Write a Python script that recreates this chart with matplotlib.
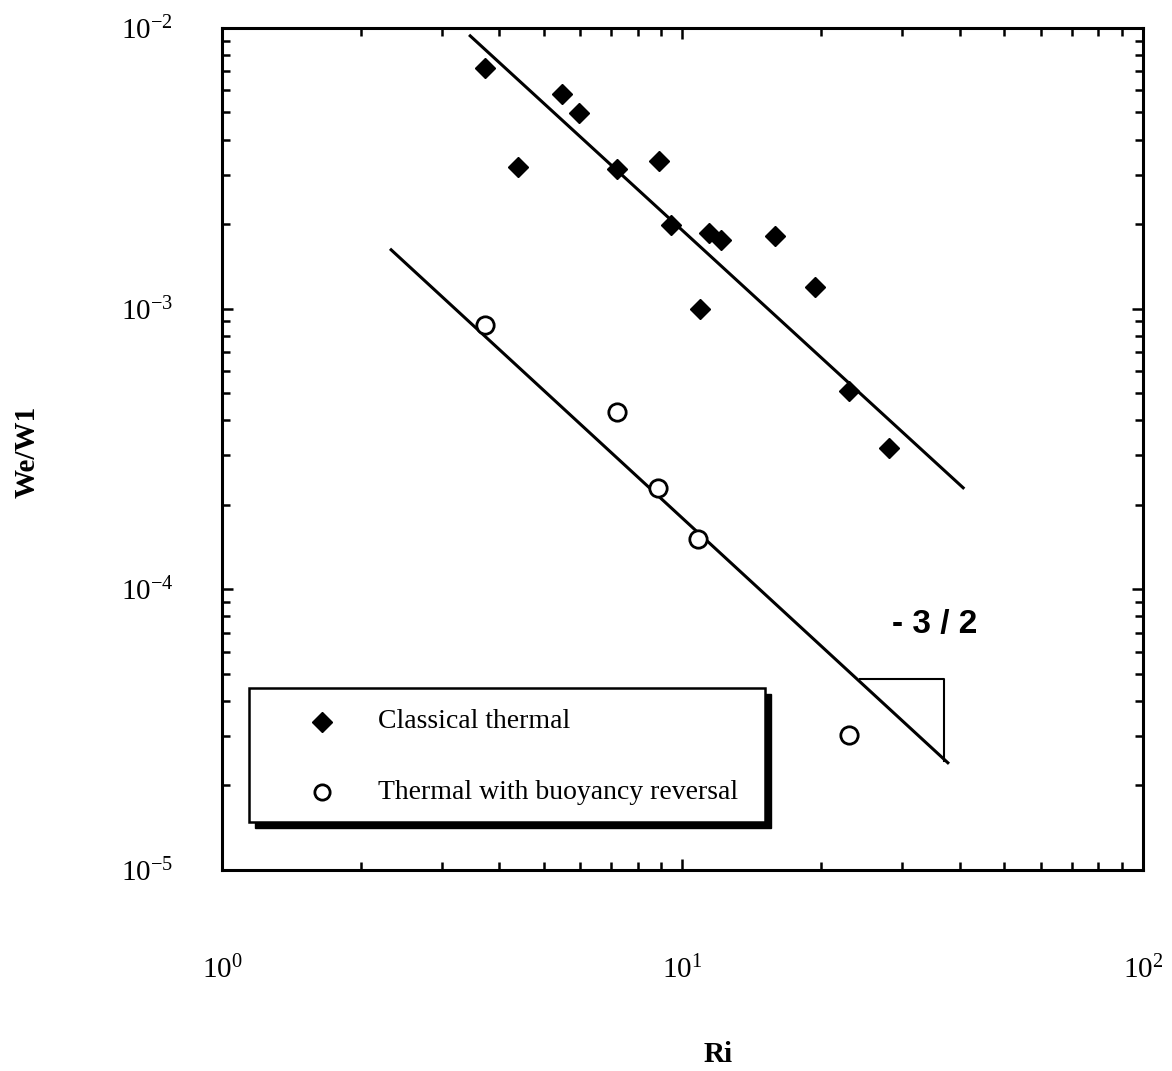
import matplotlib
matplotlib.use("Agg")
import matplotlib.pyplot as plt
from matplotlib.patches import Rectangle
from matplotlib.ticker import LogLocator

plt.rcParams["font.family"] = ["Liberation Serif", "DejaVu Serif"]
plt.rcParams["mathtext.fontset"] = "custom"
plt.rcParams["mathtext.rm"] = "Liberation Serif"
plt.rcParams["axes.unicode_minus"] = False

# classical thermal (filled diamonds)
ri_classical = [3.73, 4.39, 5.47, 5.96, 7.21, 8.89, 9.44, 11.4, 12.1, 15.9, 10.9, 19.4, 23.0, 28.1]
we_classical = [7.2e-3, 3.2e-3, 5.8e-3, 4.98e-3, 3.15e-3, 3.36e-3, 1.99e-3, 1.86e-3,
                1.76e-3, 1.82e-3, 1.0e-3, 1.19e-3, 5.1e-4, 3.2e-4]

# thermal with buoyancy reversal (open circles)
ri_reversal = [3.73, 7.21, 8.83, 10.8, 23.0]
we_reversal = [8.75e-4, 4.28e-4, 2.30e-4, 1.51e-4, 3.03e-5]

# -3/2 fit lines
fit_upper_ri = [3.46, 40.7]
fit_upper_we = [9.37e-3, 2.30e-4]
fit_lower_ri = [2.33, 37.7]
fit_lower_we = [1.62e-3, 2.41e-5]

# slope triangle
tri_ri = [24.3, 37.0, 37.0]
tri_we = [4.8e-5, 4.8e-5, 2.45e-5]

fig = plt.figure(figsize=(11.72, 10.71), dpi=100)
ax = fig.add_axes([0.1894, 0.1877, 0.7858, 0.7862])
ax.set_xscale("log")
ax.set_yscale("log")
ax.set_xlim(1, 100)
ax.set_ylim(1e-5, 1e-2)

ax.plot(fit_upper_ri, fit_upper_we, color="black", lw=2.2)
ax.plot(fit_lower_ri, fit_lower_we, color="black", lw=2.2)
ax.plot(tri_ri, tri_we, color="black", lw=1.5)

ax.plot(ri_classical, we_classical, "D", color="black", ms=10.5, ls="none")
ax.plot(ri_reversal, we_reversal, "o", mfc="white", mec="black", mew=2, ms=12.5, ls="none")

ax.text(35.3, 7.5e-5, "- 3 / 2", fontsize=24, fontweight="bold",
        family="Liberation Sans", ha="center", va="center")

# legend box with drop shadow
lx0, ly0, lw, lh = 0.0293, 0.057, 0.5603, 0.1592
ax.add_patch(Rectangle((lx0 + 0.0065, ly0 - 0.0071), lw, lh, transform=ax.transAxes,
                       facecolor="black", edgecolor="black", zorder=4))
ax.add_patch(Rectangle((lx0, ly0), lw, lh, transform=ax.transAxes,
                       facecolor="white", edgecolor="black", lw=1.8, zorder=5))
ax.plot([0.1086], [0.1758], "D", color="black", ms=10, transform=ax.transAxes, zorder=6)
ax.plot([0.1086], [0.0926], "o", mfc="white", mec="black", mew=2, ms=11,
        transform=ax.transAxes, zorder=6)
ax.text(0.1694, 0.1758, "Classical thermal", fontsize=20, transform=ax.transAxes,
        va="center", zorder=6)
ax.text(0.1694, 0.0926, "Thermal with buoyancy reversal", fontsize=20,
        transform=ax.transAxes, va="center", zorder=6)

for s in ax.spines.values():
    s.set_linewidth(2.2)

ax.xaxis.set_major_locator(LogLocator(base=10, numticks=10))
ax.xaxis.set_minor_locator(LogLocator(base=10, subs=range(2, 10), numticks=10))
ax.yaxis.set_minor_locator(LogLocator(base=10, subs=range(2, 10), numticks=10))
ax.tick_params(which="both", direction="in", top=True, right=True, width=1.8)
ax.tick_params(which="major", length=8, labelsize=21)
ax.tick_params(which="minor", length=6)
ax.tick_params(axis="x", which="major", pad=62)
ax.tick_params(axis="y", which="major", pad=35)

ax.set_xlabel("Ri", fontsize=21, fontweight="bold")
ax.xaxis.set_label_coords(0.5385, -0.203)
ax.set_ylabel("We/W1", fontsize=21, fontweight="bold")
ax.yaxis.set_label_coords(-0.197, 0.496)

fig.savefig("out.png", dpi=100)
